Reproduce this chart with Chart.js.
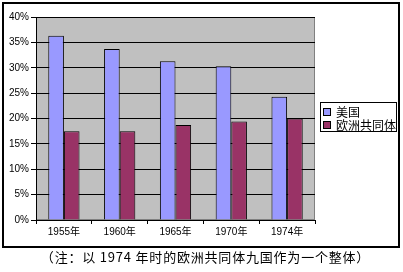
<!DOCTYPE html>
<html><head><meta charset="utf-8">
<script src="https://cdn.jsdelivr.net/npm/chart.js@4/dist/chart.umd.min.js"></script>
<style>
html,body{margin:0;padding:0;background:#fff;}
#wrap{position:relative;width:403px;height:272px;}
#cap{position:absolute;left:0;width:411px;top:249px;text-align:center;font:13px "Noto Sans CJK SC","Noto Sans CJK JP",sans-serif;letter-spacing:0.8px;line-height:16px;color:#000;white-space:nowrap;}
</style></head>
<body>
<div id="wrap"><canvas id="c" width="403" height="272"></canvas>
<div id="cap">（注：以 1974 年时的欧洲共同体九国作为一个整体）</div></div>
<script>
const categories = ['1955年','1960年','1965年','1970年','1974年'];
const usValues = [36.3, 33.7, 31.3, 30.3, 24.3];
const eecValues = [17.5, 17.5, 18.7, 19.4, 20.0];
const seriesNames = ['美国','欧洲共同体'];
const yTicks = [0,5,10,15,20,25,30,35,40];

const deco = {
  id:'deco',
  beforeDraw(chart){
    const ctx = chart.ctx, a = chart.chartArea;
    ctx.save();
    ctx.fillStyle='#fff'; ctx.fillRect(0,0,chart.width,chart.height);
    ctx.strokeStyle='#000'; ctx.lineWidth=2;
    ctx.strokeRect(3,3,396,244);
    ctx.fillStyle='#c0c0c0';
    ctx.fillRect(a.left,a.top,a.right-a.left,a.bottom-a.top);
    ctx.strokeStyle='#808080'; ctx.lineWidth=1;
    ctx.strokeRect(a.left+0.5,a.top+0.5,a.right-a.left-1,a.bottom-a.top-1);
    ctx.restore();
  },
  afterDraw(chart){
    const ctx = chart.ctx;
    ctx.save();
    ctx.strokeStyle='#000'; ctx.lineWidth=1;
    ctx.fillStyle='#fff';
    ctx.fillRect(320.5,102.5,76,29);
    ctx.strokeRect(320.5,102.5,76,29);
    ctx.font='12px "Noto Sans CJK SC","Noto Sans CJK JP",sans-serif';
    ctx.textBaseline='middle';
    chart.data.datasets.forEach((ds,i)=>{
      const cy = 112 + i*13;
      ctx.fillStyle=ds.backgroundColor;
      ctx.fillRect(323.5,cy-3.5,7,7);
      ctx.strokeStyle='#000';
      ctx.strokeRect(323.5,cy-3.5,7,7);
      ctx.fillStyle='#000';
      ctx.fillText(ds.label,336,cy+0.5);
    });
    ctx.restore();
  }
};

new Chart(document.getElementById('c'),{
  type:'bar',
  data:{
    labels:categories,
    datasets:[
      {label:seriesNames[0],data:usValues,backgroundColor:'#9999ff',borderColor:'#000',borderWidth:1},
      {label:seriesNames[1],data:eecValues,backgroundColor:'#993366',borderColor:'#000',borderWidth:1}
    ]
  },
  options:{
    responsive:false,animation:false,
    categoryPercentage:0.56,barPercentage:1.0,
    layout:{padding:{left:0,right:88,top:17,bottom:32}},
    plugins:{legend:{display:false},tooltip:{enabled:false}},
    scales:{
      x:{
        grid:{display:true,drawOnChartArea:false,drawTicks:true,tickLength:4,color:'#000',offset:true},
        border:{color:'#000',width:1},
        ticks:{color:'#000',padding:2,font:{size:10,family:'"Liberation Sans","Noto Sans CJK SC",sans-serif'},maxRotation:0},
        afterFit(s){s.height=20;}
      },
      y:{
        min:0,max:40,
        afterBuildTicks(s){s.ticks=yTicks.map(v=>({value:v}));},
        grid:{color:'#000',tickLength:5,drawTicks:true},
        border:{color:'#000',width:1},
        ticks:{color:'#000',padding:2,font:{size:10,family:'"Liberation Sans",sans-serif'},callback:v=>v+'%'},
        afterFit(s){s.width=36;}
      }
    }
  },
  plugins:[deco]
});
</script>
</body></html>
